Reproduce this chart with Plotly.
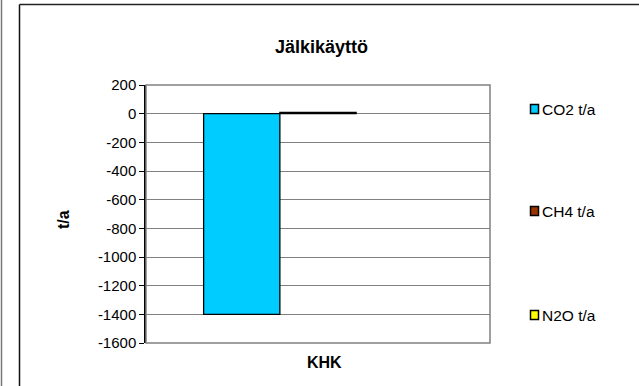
import plotly.graph_objects as go

categories = ["KHK"]
series_names = ["CO2 t/a", "CH4 t/a", "N2O t/a"]
series_values = [[-1400], [8], [0]]
series_colors = ["#00CCFF", "#993300", "#FFFF00"]
tick_vals = list(range(-1600, 201, 200))
tick_text = [str(v) for v in tick_vals]

W, H = 639, 386
L, R, T, B = 146, 490, 85, 343
FONT = "Liberation Sans, Arial, sans-serif"

fig = go.Figure()
for name, vals, col in zip(series_names, series_values, series_colors):
    lw = 1.3 if any(v != 0 for v in vals) else 0
    fig.add_trace(go.Bar(x=categories, y=vals, name=name, marker_color=col,
                         marker_line_color="black", marker_line_width=lw,
                         showlegend=False))

def px_x(p):
    return (p - L) / (R - L)

def px_y(p):
    return (B - p) / (B - T)

shapes = [
    dict(type="line", xref="paper", yref="paper", x0=px_x(19.5), x1=px_x(660), y0=px_y(4.5), y1=px_y(4.5),
         line=dict(color="#222222", width=1.5)),
    dict(type="line", xref="paper", yref="paper", x0=px_x(19.5), x1=px_x(19.5), y0=px_y(4.5), y1=px_y(400),
         line=dict(color="#111111", width=1.5)),
    dict(type="line", xref="paper", yref="paper", x0=px_x(1.5), x1=px_x(1.5), y0=px_y(0), y1=px_y(400),
         line=dict(color="#777777", width=1.5)),
    dict(type="rect", xref="paper", yref="paper", x0=0, x1=1, y0=0, y1=1,
         line=dict(color="#808080", width=1.5), layer="above"),
]

annotations = [
    dict(text="<b>Jälkikäyttö</b>", xref="paper", yref="paper", x=px_x(321), y=px_y(47),
         showarrow=False, xanchor="center", yanchor="middle", font=dict(size=18)),
    dict(text="<b>KHK</b>", xref="paper", yref="paper", x=px_x(324), y=px_y(362),
         showarrow=False, xanchor="center", yanchor="middle", font=dict(size=16)),
    dict(text="<b>t/a</b>", xref="paper", yref="paper", x=px_x(63), y=px_y(220),
         showarrow=False, xanchor="center", yanchor="middle", textangle=-90, font=dict(size=16)),
]

legend_y = [109, 211, 315]
for name, col, ly in zip(series_names, series_colors, legend_y):
    shapes.append(dict(type="rect", xref="paper", yref="paper",
                       x0=px_x(530.5), x1=px_x(538.5), y0=px_y(ly - 4.5), y1=px_y(ly + 4.5),
                       fillcolor=col, line=dict(color="black", width=1.5)))
    annotations.append(dict(text=name, xref="paper", yref="paper", x=px_x(540), y=px_y(ly),
                            showarrow=False, xanchor="left", yanchor="middle",
                            font=dict(size=15.5)))

fig.update_layout(
    width=W, height=H,
    margin=dict(l=L, r=W - R, t=T, b=H - B),
    paper_bgcolor="white", plot_bgcolor="white",
    font=dict(family=FONT, size=15, color="black"),
    barmode="group", bargap=0.335, bargroupgap=0,
    showlegend=False,
    xaxis=dict(showgrid=False, showline=False, ticks="", showticklabels=False),
    yaxis=dict(range=[-1600, 200], tickvals=tick_vals, ticktext=tick_text,
               showgrid=True, gridcolor="#808080", gridwidth=1,
               zeroline=False, showline=True, linecolor="black", linewidth=1.5,
               ticks="outside", ticklen=5, tickcolor="black", tickfont=dict(size=15)),
    shapes=shapes,
    annotations=annotations,
)

fig.write_html("out.html")
